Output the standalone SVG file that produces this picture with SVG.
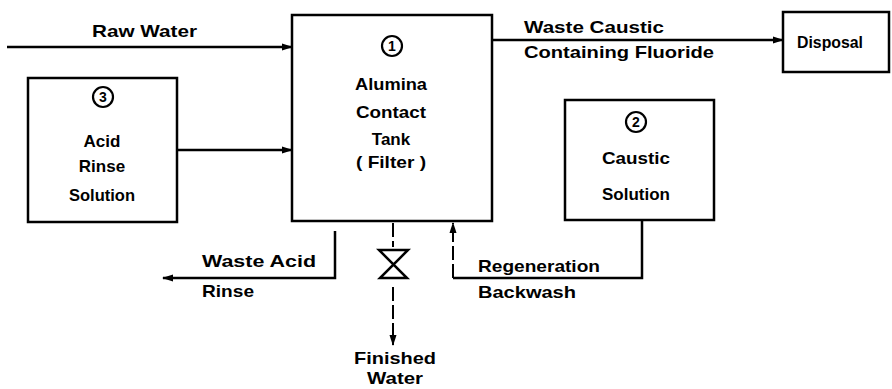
<svg xmlns="http://www.w3.org/2000/svg" width="892" height="389" viewBox="0 0 892 389">
<style>
.b{fill:#fff;stroke:#000;stroke-width:2.5}
.l{fill:none;stroke:#000;stroke-width:2.5}
.d{fill:none;stroke:#000;stroke-width:2;stroke-dasharray:14 4}
.t{font-family:"Liberation Sans",Arial,sans-serif;font-size:17px;font-weight:bold;fill:#000}
.c{text-anchor:middle}
.n{fill:#fff;stroke:#000;stroke-width:2.2}
.nt{font-family:"Liberation Sans",Arial,sans-serif;font-size:14px;font-weight:bold;text-anchor:middle;fill:#000}
</style>
<defs>
<marker id="a" markerWidth="11" markerHeight="8" refX="10" refY="4" orient="auto" markerUnits="userSpaceOnUse">
<path d="M0,0.5 L11,4 L0,7.5 Z" fill="#000"/>
</marker>
</defs>
<g id="tank">
<rect class="b" x="292" y="15" width="200" height="206"/>
<circle class="n" cx="392" cy="46" r="10"/>
<text class="nt" x="392" y="51">1</text>
<text class="t c" x="391" y="90" textLength="72" lengthAdjust="spacingAndGlyphs">Alumina</text>
<text class="t c" x="391" y="118" textLength="70" lengthAdjust="spacingAndGlyphs">Contact</text>
<text class="t c" x="391" y="145">Tank</text>
<text class="t c" x="391" y="168" textLength="70" lengthAdjust="spacingAndGlyphs">( Filter )</text>
</g>
<g id="acid">
<rect class="b" x="28" y="78" width="149" height="144"/>
<circle class="n" cx="103" cy="97" r="10"/>
<text class="nt" x="103" y="102">3</text>
<text class="t c" x="102" y="147">Acid</text>
<text class="t c" x="102" y="172">Rinse</text>
<text class="t c" x="102" y="201" textLength="66" lengthAdjust="spacingAndGlyphs">Solution</text>
</g>
<g id="caustic">
<rect class="b" x="565" y="100" width="149" height="120"/>
<circle class="n" cx="636" cy="122" r="10"/>
<text class="nt" x="636" y="127">2</text>
<text class="t c" x="636" y="164" textLength="68" lengthAdjust="spacingAndGlyphs">Caustic</text>
<text class="t c" x="636" y="200" textLength="68" lengthAdjust="spacingAndGlyphs">Solution</text>
</g>
<g id="disposal">
<rect class="b" x="783" y="12" width="106" height="60"/>
<text class="t" x="797" y="48" textLength="66" lengthAdjust="spacingAndGlyphs">Disposal</text>
</g>
<g id="valve">
<path d="M379,250 L408,250 L380,278 L407,278 Z" fill="#fff" stroke="#000" stroke-width="2.5" stroke-linejoin="miter"/>
</g>
<g id="connectors">
<line class="l" x1="7" y1="47" x2="292" y2="47" marker-end="url(#a)"/>
<line class="l" x1="177" y1="150" x2="292" y2="150" marker-end="url(#a)"/>
<line class="l" x1="492" y1="40" x2="783" y2="40" marker-end="url(#a)"/>
<polyline class="l" points="335,231 335,278 163,278" marker-end="url(#a)"/>
<line class="d" x1="393" y1="223" x2="393" y2="247"/>
<line class="d" x1="393" y1="287" x2="393" y2="345" marker-end="url(#a)"/>
<polyline class="l" points="642,220 642,278 453,278"/>
<line class="d" x1="453" y1="278" x2="453" y2="223" marker-end="url(#a)"/>
</g>
<g id="labels">
<text class="t" x="92" y="37" textLength="105" lengthAdjust="spacingAndGlyphs">Raw Water</text>
<text class="t" x="524" y="33" textLength="140" lengthAdjust="spacingAndGlyphs">Waste Caustic</text>
<text class="t" x="524" y="58" textLength="190" lengthAdjust="spacingAndGlyphs">Containing Fluoride</text>
<text class="t" x="202" y="267" textLength="114" lengthAdjust="spacingAndGlyphs">Waste Acid</text>
<text class="t" x="202" y="297" textLength="52" lengthAdjust="spacingAndGlyphs">Rinse</text>
<text class="t" x="478" y="272" textLength="122" lengthAdjust="spacingAndGlyphs">Regeneration</text>
<text class="t" x="478" y="298" textLength="98" lengthAdjust="spacingAndGlyphs">Backwash</text>
<text class="t c" x="395" y="364" textLength="82" lengthAdjust="spacingAndGlyphs">Finished</text>
<text class="t c" x="395" y="384" textLength="56" lengthAdjust="spacingAndGlyphs">Water</text>
</g>
</svg>
